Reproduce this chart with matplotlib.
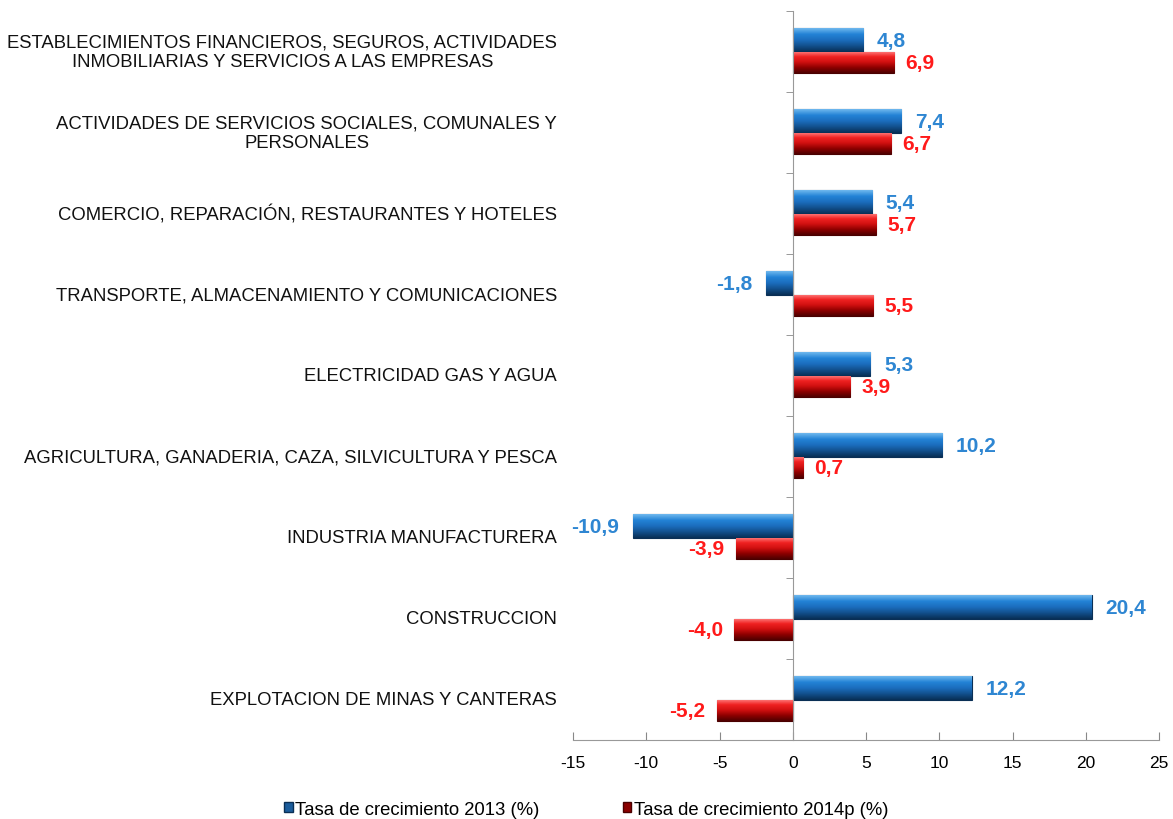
import matplotlib
matplotlib.use("Agg")
import matplotlib.pyplot as plt
from matplotlib import colors
from matplotlib.patches import Patch
import numpy as np

# Data -----
sectores = [
    "EXPLOTACION DE MINAS Y CANTERAS",
    "CONSTRUCCION",
    "INDUSTRIA MANUFACTURERA",
    "AGRICULTURA, GANADERIA, CAZA, SILVICULTURA Y PESCA",
    "ELECTRICIDAD GAS Y AGUA",
    "TRANSPORTE, ALMACENAMIENTO Y COMUNICACIONES",
    "COMERCIO, REPARACIÓN, RESTAURANTES Y HOTELES",
    "ACTIVIDADES DE SERVICIOS SOCIALES, COMUNALES Y\nPERSONALES",
    "ESTABLECIMIENTOS FINANCIEROS, SEGUROS, ACTIVIDADES\nINMOBILIARIAS Y SERVICIOS A LAS EMPRESAS",
]
tasa_2013 = [12.2, 20.4, -10.9, 10.2, 5.3, -1.8, 5.4, 7.4, 4.8]
tasa_2014p = [-5.2, -4.0, -3.9, 0.7, 3.9, 5.5, 5.7, 6.7, 6.9]
series_names = ["Tasa de crecimiento 2013 (%)", "Tasa de crecimiento 2014p (%)"]
xticks = [-15, -10, -5, 0, 5, 10, 15, 20, 25]

plt.rcParams['font.family'] = ['Liberation Sans', 'DejaVu Sans']

# bevel-ish gradients (bottom -> top)
blue_map = colors.LinearSegmentedColormap.from_list(
    'blu', ['#082f55', '#124f8c', '#1b6dbd', '#2383d6', '#6fb8ee'])
red_map = colors.LinearSegmentedColormap.from_list(
    'rd', ['#4f0000', '#8e0000', '#d01010', '#f02222', '#ff8080'])


def gradient_bars(ax, bars, cmap):
    grad = np.linspace(0, 1, 64).reshape(-1, 1)
    for b in bars:
        x0, y0 = b.get_x(), b.get_y()
        w, h = b.get_width(), b.get_height()
        im = ax.imshow(grad, extent=[x0, x0 + w, y0, y0 + h], origin='lower',
                       aspect='auto', cmap=cmap, zorder=2, interpolation='bilinear')
        im.set_clip_path(b)


fig = plt.figure(figsize=(11.73, 8.2), dpi=100)
ax = fig.add_axes([0.4885, 0.0963, 0.4996, 0.8890])

y = np.arange(len(sectores))
b1 = ax.barh(y + 0.14, tasa_2013, height=0.29, color='#1f78c8',
             edgecolor='#0a2f55', linewidth=0.8, zorder=2)
b2 = ax.barh(y - 0.135, tasa_2014p, height=0.26, color='#d81010',
             edgecolor='#4a0000', linewidth=0.8, zorder=2)
gradient_bars(ax, b1, blue_map)
gradient_bars(ax, b2, red_map)

# value labels
for yy, v in zip(y, tasa_2013):
    off = 10 if v >= 0 else -10
    ax.annotate(f"{v:.1f}".replace('.', ','), (v, yy + 0.14), xytext=(off, 0),
                textcoords='offset points', ha='left' if v >= 0 else 'right',
                va='center', color='#2e86d2', fontsize=15, fontweight='bold')
for yy, v in zip(y, tasa_2014p):
    off = 8 if v >= 0 else -8
    ax.annotate(f"{v:.1f}".replace('.', ','), (v, yy - 0.135), xytext=(off, 0),
                textcoords='offset points', ha='left' if v >= 0 else 'right',
                va='center', color='#ff1a1a', fontsize=15, fontweight='bold')

ax.set_xlim(-15, 25)
ax.set_ylim(-0.5, len(sectores) - 0.5)
ax.set_xticks(xticks)
ax.set_xticklabels([str(t) for t in xticks], fontsize=12.5)
ax.tick_params(axis='x', direction='in', length=6, color='#888888', pad=11)

# y axis sits on zero
ax.spines['left'].set_position(('data', 0))
ax.spines['left'].set_color('#999999')
ax.spines['bottom'].set_color('#999999')
ax.spines['top'].set_visible(False)
ax.spines['right'].set_visible(False)
ax.set_yticks(y)
ax.set_yticklabels([])
ax.tick_params(axis='y', which='major', length=0)
ax.set_yticks(np.arange(len(sectores) + 1) - 0.5, minor=True)
ax.tick_params(axis='y', which='minor', direction='out', length=5, color='#888888')

for yy, s in zip(y, sectores):
    ax.text(-0.027, yy, s, transform=ax.get_yaxis_transform(), ha='right',
            va='center', multialignment='center', fontsize=13.3, color='#111111')

handles = [Patch(facecolor='#1b5d9c', edgecolor='#0a2f55'),
           Patch(facecolor='#8b0000', edgecolor='#4a0000')]
fig.legend(handles, series_names, loc='center', bbox_to_anchor=(0.5, 0.012),
           ncol=2, frameon=False, fontsize=13.3, handlelength=0.45, handleheight=0.45,
           handletextpad=0.15, columnspacing=4.5, borderpad=0)

fig.savefig("out.png", dpi=100)
